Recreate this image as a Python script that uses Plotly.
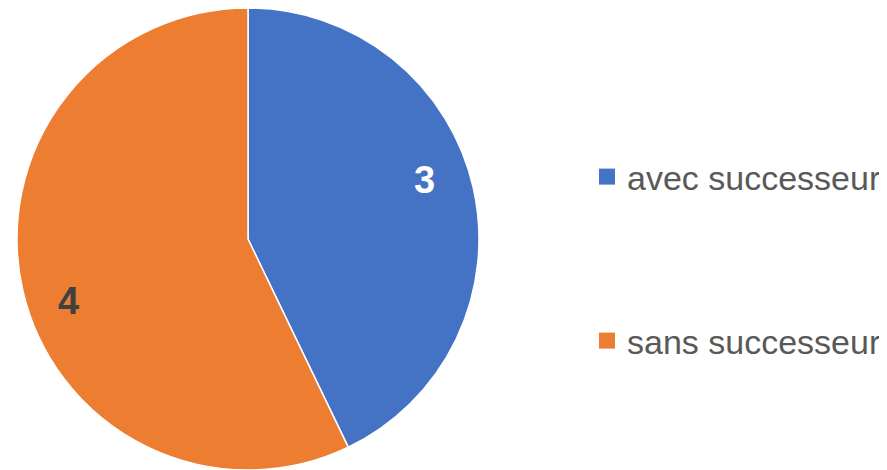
import plotly.graph_objects as go

labels = ["avec successeur", "sans successeur"]
values = [3, 4]
colors = ["#4472C4", "#ED7D31"]
label_colors = ["#FFFFFF", "#404040"]

# The page body adds an 8px margin, so the figure is 8px smaller and offsets are compensated
OFF = 8
W, H = 887 - OFF, 470 - OFF

def px_x(x):
    return (x - OFF) / W

def px_y(y):
    return 1 - (y - OFF) / H

label_pos_x = [px_x(424), px_x(68)]
label_pos_y = [px_y(180), px_y(301)]
legend_y = [px_y(177), px_y(341)]

fig = go.Figure()
fig.add_trace(go.Pie(
    labels=labels, values=values, sort=False, direction="clockwise", rotation=0,
    marker=dict(colors=colors, line=dict(color="white", width=1.5)),
    textinfo="none", hoverinfo="label+value", showlegend=False,
    domain=dict(x=[px_x(17), px_x(479)], y=[0, 1]),
))

legend_names = ["legend", "legend2"]
for i, (lab, col) in enumerate(zip(labels, colors)):
    fig.add_trace(go.Scatter(
        x=[None], y=[None], mode="markers", name=lab,
        marker=dict(symbol="square", size=16, color=col),
        showlegend=True, legend=legend_names[i],
    ))

for i, v in enumerate(values):
    fig.add_annotation(
        x=label_pos_x[i], y=label_pos_y[i], xref="paper", yref="paper",
        text=f"<b>{v}</b>", showarrow=False,
        font=dict(family="Liberation Sans, Arial", size=38, color=label_colors[i]),
        xanchor="center", yanchor="middle",
    )

legend_common = dict(
    font=dict(family="Liberation Sans, Arial", size=34, color="#595959"),
    xanchor="left", yanchor="middle", x=px_x(587), bgcolor="rgba(0,0,0,0)",
    itemclick=False, itemdoubleclick=False,
)

fig.update_layout(
    width=W, height=H,
    margin=dict(l=0, r=0, t=0, b=0),
    paper_bgcolor="white", plot_bgcolor="white",
    xaxis=dict(visible=False), yaxis=dict(visible=False),
    legend=dict(y=legend_y[0], **legend_common),
    legend2=dict(y=legend_y[1], **legend_common),
)

fig.write_html("out.html")
